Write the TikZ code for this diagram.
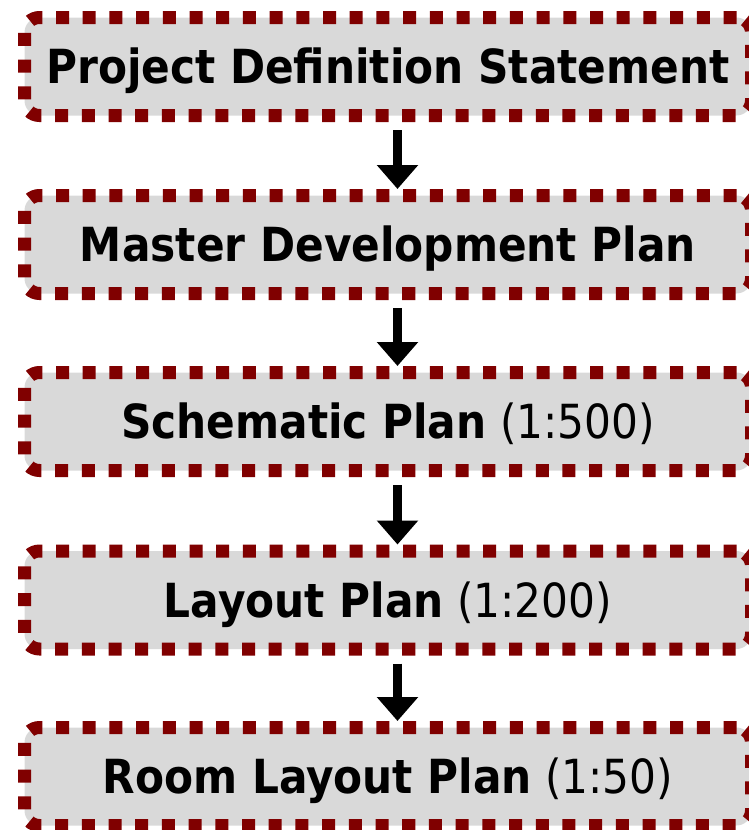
\documentclass[tikz,border=0pt]{standalone}
\usepackage{fontspec}
\setmainfont{DejaVu Sans Condensed}[BoldFont={DejaVu Sans Condensed Bold}]
\usetikzlibrary{arrows.meta}
\definecolor{planred}{HTML}{800000}
\definecolor{plangray}{HTML}{D9D9D9}
\begin{document}
\begin{tikzpicture}[x=1pt,y=1pt,
        planbox/.style={shape=rectangle,draw=planred,fill=plangray,line width=13pt,
            dash pattern=on 13pt off 13.7pt,rounded corners=15pt,
            minimum width=727pt,minimum height=98pt,inner sep=0pt,
            text height=34pt,text depth=0pt,
            font=\fontsize{47}{56}\selectfont},
        planarrow/.style={-{Triangle[width=40pt,length=24pt]},line width=9pt,black,
            shorten <=8pt}]
        \useasboundingbox (0,0) rectangle (749,-830);
        \node[planbox] (A) at (388,-66.5) {\textbf{Project Definition Statement}};
        \node[planbox] (B) at (388,-244.5) {\textbf{Master Development Plan}};
        \node[planbox] (C) at (388,-421.5) {\textbf{Schematic Plan} (1:500)};
        \node[planbox] (D) at (388,-600) {\textbf{Layout Plan} (1:200)};
        \node[planbox] (E) at (388,-776.5) {\textbf{Room Layout Plan} (1:50)};
        \path [planarrow]([xshift=9.5pt]A.south) edge ([xshift=9.5pt]B.north);
        \path [planarrow]([xshift=9.5pt]B.south) edge ([xshift=9.5pt]C.north);
        \path [planarrow]([xshift=9.5pt]C.south) edge ([xshift=9.5pt]D.north);
        \path [planarrow]([xshift=9.5pt]D.south) edge ([xshift=9.5pt]E.north);
    \end{tikzpicture}
\end{document}
